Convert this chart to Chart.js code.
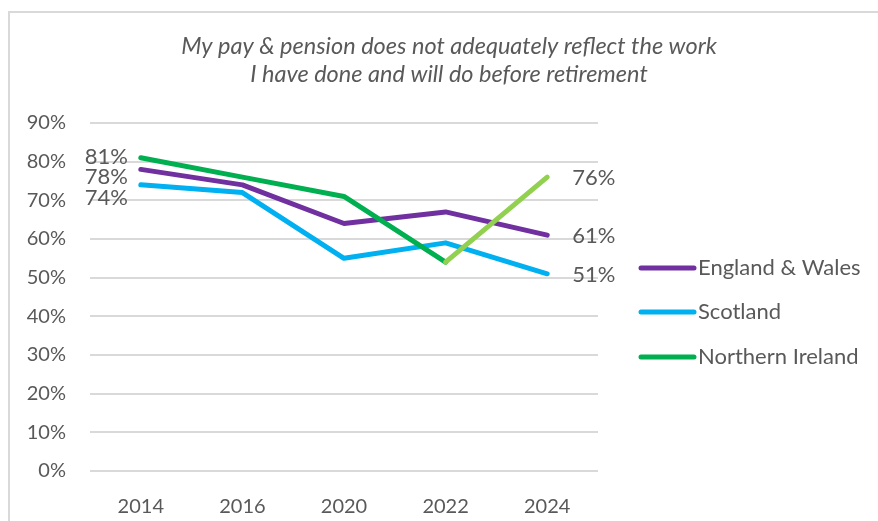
<!DOCTYPE html>
<html>
<head>
<meta charset="utf-8">
<script src="https://cdn.jsdelivr.net/npm/chart.js@4.4.1/dist/chart.umd.min.js"></script>
<style>
  html, body { margin: 0; padding: 0; background: #fff; overflow: hidden; }
  #frame { position: absolute; left: 8px; top: 11px; width: 900px; height: 600px; border: 2px solid #d9d9d9; }
  #wrap { position: absolute; left: 0; top: 0; width: 878px; height: 521px; }
</style>
</head>
<body>
<div id="frame"></div>
<div id="wrap"><canvas id="pay-chart" width="878" height="521"></canvas></div>
<script>
const years = ['2014', '2016', '2020', '2022', '2024'];
const englandWales = [78, 74, 64, 67, 61];
const scotland = [74, 72, 55, 59, 51];
const northernIreland = [81, 76, 71, 54, 76];
const yTicks = [0, 10, 20, 30, 40, 50, 60, 70, 80, 90];
const titleLines = ['My pay & pension does not adequately reflect the work', 'I have done and will do before retirement'];

const FONT = 'Lato, "Open Sans", sans-serif';
const GREY = '#595959';

// nudges for the end-point labels so they don't overlap
const labelNudge = {
    0: { first: 8, last: 1 },
    1: { first: 13, last: 1 },
    2: { first: -1, last: 1 }
};

const overlayPlugin = {
    id: 'overlay',
    afterDatasetsDraw(chart) {
        const ctx = chart.ctx;
        ctx.save();

        // title
        ctx.fillStyle = GREY;
        ctx.font = 'italic 23.5px ' + FONT;
        ctx.textAlign = 'center';
        ctx.textBaseline = 'middle';
        ctx.fillText(titleLines[0], 449, 46);
        ctx.fillText(titleLines[1], 449, 74);

        // first and last value labels
        ctx.font = '22px ' + FONT;
        chart.data.datasets.forEach((ds, i) => {
            const meta = chart.getDatasetMeta(i);
            const first = meta.data[0];
            const last = meta.data[meta.data.length - 1];
            ctx.textAlign = 'right';
            ctx.fillText(ds.data[0] + '%', first.x - 13, first.y + labelNudge[i].first);
            ctx.textAlign = 'left';
            ctx.fillText(ds.data[ds.data.length - 1] + '%', last.x + 25, last.y + labelNudge[i].last);
        });

        // legend on the right
        const rows = [268, 312, 357];
        chart.data.datasets.forEach((ds, i) => {
            ctx.strokeStyle = ds.legendColor;
            ctx.lineWidth = 5;
            ctx.lineCap = 'round';
            ctx.beginPath();
            ctx.moveTo(641, rows[i]);
            ctx.lineTo(694, rows[i]);
            ctx.stroke();
            ctx.fillStyle = GREY;
            ctx.textAlign = 'left';
            ctx.font = '22px ' + FONT;
            ctx.fillText(ds.label, 698, rows[i]);
        });
        ctx.restore();
    }
};

const ctx = document.getElementById('pay-chart').getContext('2d');
const payChart = new Chart(ctx, {
    type: 'line',
    data: {
        labels: years,
        datasets: [
            {
                label: 'England & Wales',
                data: englandWales,
                borderColor: '#7030a0',
                legendColor: '#7030a0',
                order: 1
            },
            {
                label: 'Scotland',
                data: scotland,
                borderColor: '#00b0f0',
                legendColor: '#00b0f0',
                order: 2
            },
            {
                label: 'Northern Ireland',
                data: northernIreland,
                borderColor: '#00b050',
                legendColor: '#00b050',
                order: 0,
                segment: {
                    borderColor: c => c.p0DataIndex === 3 ? '#92d050' : '#00b050'
                }
            }
        ]
    },
    options: {
        responsive: false,
        animation: false,
        devicePixelRatio: 1,
        layout: {
            padding: { top: 123, right: 280, bottom: 0, left: 0 }
        },
        elements: {
            line: { borderWidth: 5, tension: 0, borderCapStyle: 'round', borderJoinStyle: 'round' },
            point: { radius: 0, hoverRadius: 0 }
        },
        scales: {
            x: {
                offset: true,
                grid: { display: false },
                border: { display: false },
                ticks: { color: GREY, font: { family: FONT, size: 20 }, padding: 16 },
                afterFit: s => { s.height = 50; }
            },
            y: {
                min: 0,
                max: 90,
                afterBuildTicks: s => { s.ticks = yTicks.map(v => ({ value: v })); },
                grid: { color: '#d9d9d9', lineWidth: 2, drawTicks: false },
                border: { display: false },
                ticks: {
                    color: GREY,
                    font: { family: FONT, size: 20 },
                    padding: 24,
                    callback: v => v + '%'
                },
                afterFit: s => { s.width = 90; }
            }
        },
        plugins: {
            legend: { display: false },
            title: { display: false },
            tooltip: { enabled: false }
        }
    },
    plugins: [overlayPlugin]
});
</script>
</body>
</html>
